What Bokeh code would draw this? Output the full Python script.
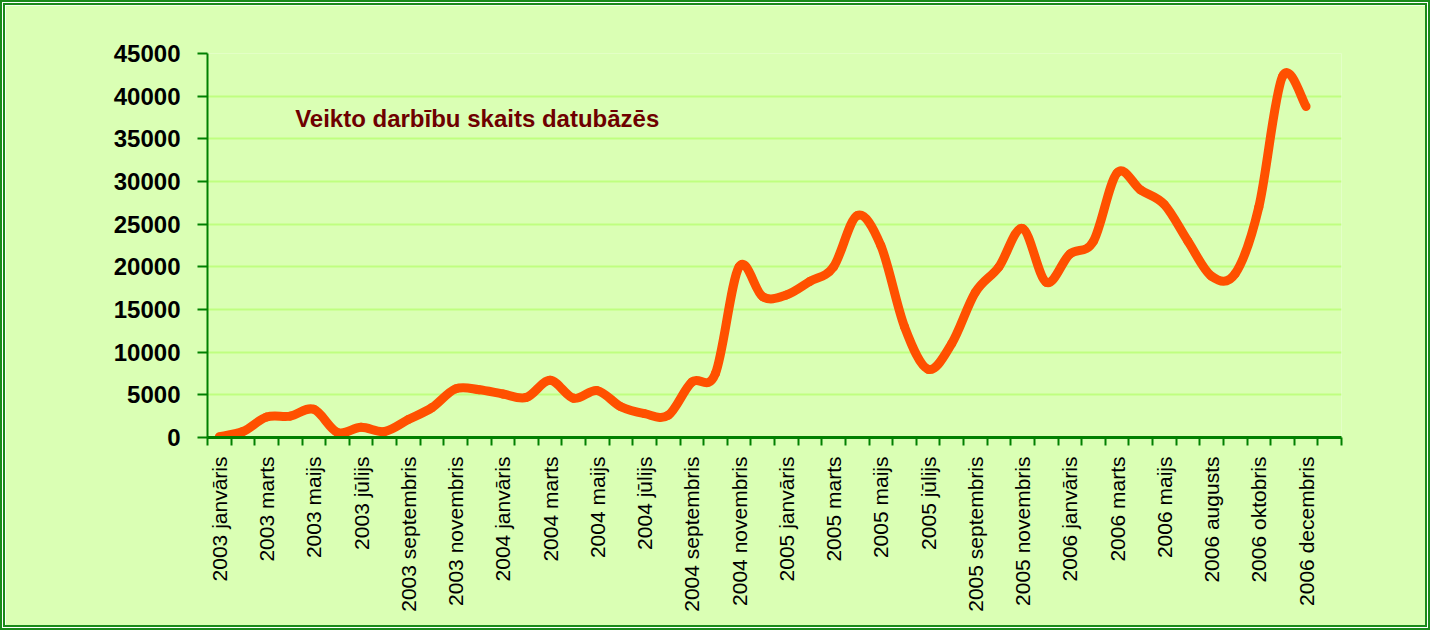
import math
from bokeh.plotting import figure
from bokeh.models import FixedTicker, Label, Range1d, ColumnDataSource
from bokeh.embed import file_html
from bokeh.resources import INLINE

# ---------------- data ----------------
month_names = ["janvāris", "februāris", "marts", "aprīlis", "maijs", "jūnijs",
               "jūlijs", "augusts", "septembris", "oktobris", "novembris", "decembris"]
months = ([f"2003 {m}" for m in month_names] +
          [f"2004 {m}" for m in month_names] +
          [f"2005 {m}" for m in month_names] +
          ["2006 janvāris", "2006 februāris", "2006 marts", "2006 aprīlis", "2006 maijs",
           "2006 jūnijs", "2006 augusts", "2006 septembris", "2006 oktobris",
           "2006 novembris", "2006 decembris"])

actions = [100, 700, 2400, 2500, 3300, 600, 1200, 700, 2100, 3500, 5700, 5600,
           5100, 4700, 6700, 4600, 5500, 3600, 2800, 2600, 6500, 7500, 20000, 16500,
           16700, 18300, 20000, 26000, 22500, 13000, 8000, 11000, 17000, 20000, 24500, 18200,
           21500, 23000, 31000, 29000, 27300, 23000, 18900, 19200, 27000, 42300, 38800]

y_ticks = list(range(0, 45001, 5000))
title_text = "Veikto darbību skaits datubāzēs"

# ---------------- styles ----------------
BG = "#daffb4"
GRID = "#bfff80"
AXIS = "#008000"
LINE = "#ff5000"
TITLE = "#6e0000"
FONT = "Liberation Sans"

n = len(actions)
n_slots = len(months) + 1  # one empty trailing category slot on the axis

p = figure(width=1430, height=630,
           x_range=Range1d(-0.5, n_slots - 0.5), y_range=Range1d(0, 45000),
           output_backend="svg", toolbar_location=None,
           min_border_left=202, min_border_right=94,
           min_border_top=48, min_border_bottom=198,
           background_fill_color=BG, border_fill_color=BG,
           outline_line_color=None)
p.styles = {"border": "5px double #1a8a1a"}

# ---- smoothed line (cubic Bezier segments through every data point) ----
xs = list(range(n))
x0, y0, x1, y1, cx0, cy0, cx1, cy1 = [], [], [], [], [], [], [], []
for i in range(n - 1):
    im = max(i - 1, 0)
    ip2 = min(i + 2, n - 1)
    x0.append(xs[i]); y0.append(actions[i])
    x1.append(xs[i + 1]); y1.append(actions[i + 1])
    cx0.append(xs[i] + (xs[i + 1] - xs[im]) / 6.0)
    cy0.append(actions[i] + (actions[i + 1] - actions[im]) / 6.0)
    cx1.append(xs[i + 1] - (xs[ip2] - xs[i]) / 6.0)
    cy1.append(actions[i + 1] - (actions[ip2] - actions[i]) / 6.0)
src = ColumnDataSource(dict(x0=x0, y0=y0, x1=x1, y1=y1, cx0=cx0, cy0=cy0, cx1=cx1, cy1=cy1))
p.bezier(x0="x0", y0="y0", x1="x1", y1="y1", cx0="cx0", cy0="cy0", cx1="cx1", cy1="cy1",
         source=src, line_color=LINE, line_width=9, line_cap="round")

# ---- x axis: labels on every other month, tick marks between categories ----
label_idx = list(range(0, len(months), 2))
xa = p.xaxis[0]
xa.ticker = FixedTicker(ticks=label_idx, minor_ticks=[k - 0.5 for k in range(n_slots + 1)])
xa.major_label_overrides = {k: months[k] for k in label_idx}
xa.major_label_orientation = math.pi / 2
xa.major_label_text_font = FONT
xa.major_label_text_font_size = "21px"
xa.major_label_text_color = "#000000"
xa.major_label_standoff = 11
xa.major_tick_in = 0
xa.major_tick_out = 0
xa.minor_tick_in = 0
xa.minor_tick_out = 8
xa.minor_tick_line_color = AXIS
xa.minor_tick_line_width = 2
xa.axis_line_color = AXIS
xa.axis_line_width = 3

# ---- y axis ----
ya = p.yaxis[0]
ya.ticker = FixedTicker(ticks=y_ticks)
ya.major_label_text_font = FONT
ya.major_label_text_font_style = "bold"
ya.major_label_text_font_size = "24px"
ya.major_label_text_color = "#000000"
ya.major_label_standoff = 17
ya.major_tick_in = 0
ya.major_tick_out = 10
ya.major_tick_line_color = AXIS
ya.major_tick_line_width = 2
ya.minor_tick_line_color = None
ya.axis_line_color = AXIS
ya.axis_line_width = 2

p.xgrid.visible = False
p.ygrid.ticker = FixedTicker(ticks=y_ticks)
p.ygrid.grid_line_color = GRID
p.ygrid.grid_line_width = 2

# ---- title inside the plot area ----
p.add_layout(Label(x=3.21, y=37420, text=title_text, text_font=FONT,
                   text_font_style="bold", text_font_size="24px",
                   text_color=TITLE, text_baseline="alphabetic", text_align="left"))

open("out.html", "w").write(file_html(p, INLINE))
